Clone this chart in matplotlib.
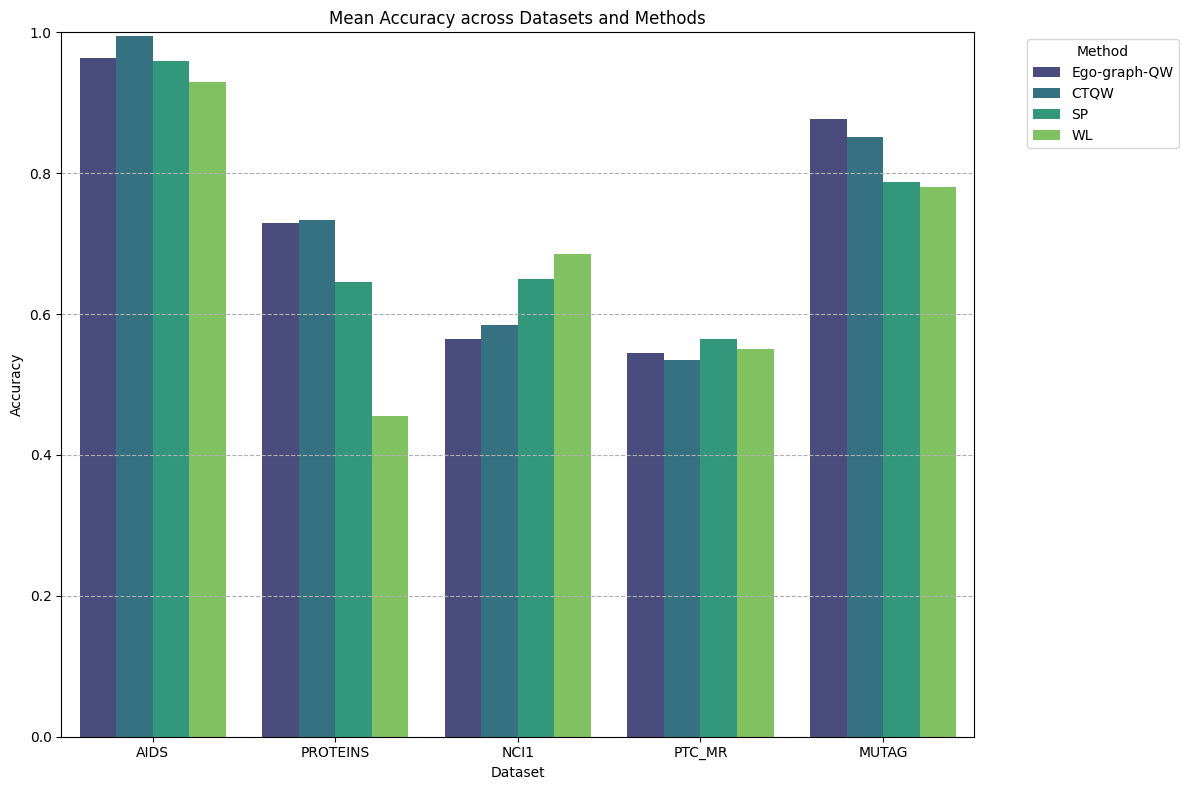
import pandas as pd
import matplotlib
matplotlib.use("Agg")
import matplotlib.pyplot as plt
import seaborn as sns

# データ
datasets = ['AIDS', 'PROTEINS', 'NCI1', 'PTC_MR', 'MUTAG']
methods = ['Ego-graph-QW', 'CTQW', 'SP', 'WL']
ego_qw = [0.964, 0.729, 0.564, 0.545, 0.877]
ctqw = [0.995, 0.734, 0.584, 0.535, 0.851]
sp = [0.959, 0.645, 0.650, 0.564, 0.787]
wl = [0.929, 0.455, 0.685, 0.550, 0.781]

rows = []
for m, vals in zip(methods, [ego_qw, ctqw, sp, wl]):
    for d, v in zip(datasets, vals):
        rows.append({'Dataset': d, 'Method': m, 'Accuracy': v})
df = pd.DataFrame(rows)

plt.figure(figsize=(12, 8))
ax = sns.barplot(data=df, x='Dataset', y='Accuracy', hue='Method',
                 order=datasets, hue_order=methods, palette='viridis')
plt.title('Mean Accuracy across Datasets and Methods')
plt.ylim(0, 1)
plt.grid(axis='y', linestyle='--')
plt.legend(title='Method', bbox_to_anchor=(1.05, 1), loc='upper left')
plt.tight_layout()
plt.savefig('out.png', dpi=100, bbox_inches='tight')
